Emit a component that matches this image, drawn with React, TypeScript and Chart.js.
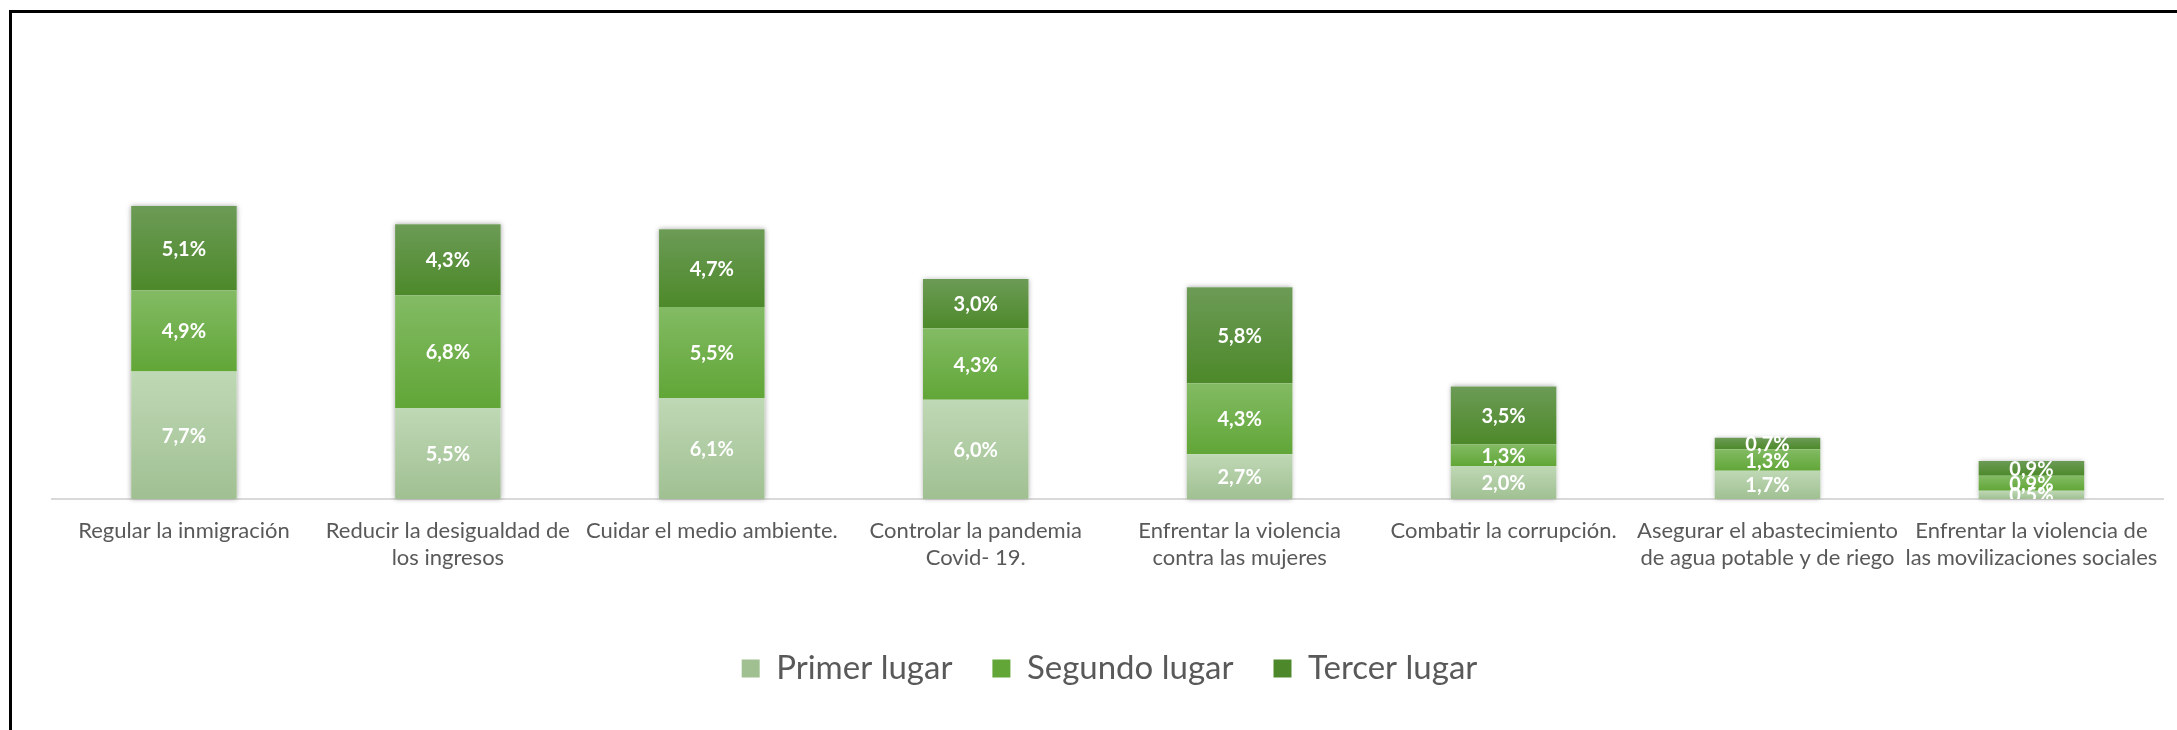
import React, { useEffect, useRef } from "react";
import { Chart, registerables } from "chart.js";

Chart.register(...registerables);

const categories: (string | string[])[] = [
  "Regular la inmigración",
  ["Reducir la desigualdad de", "los ingresos"],
  "Cuidar el medio ambiente.",
  ["Controlar la pandemia", "Covid- 19."],
  ["Enfrentar la violencia", "contra las mujeres"],
  "Combatir la corrupción.",
  ["Asegurar el abastecimiento", "de agua potable y de riego"],
  ["Enfrentar la violencia de", "las movilizaciones sociales"],
];

const primerLugar = [7.7, 5.5, 6.1, 6.0, 2.7, 2.0, 1.7, 0.5];
const segundoLugar = [4.9, 6.8, 5.5, 4.3, 4.3, 1.3, 1.3, 0.9];
const tercerLugar = [5.1, 4.3, 4.7, 3.0, 5.8, 3.5, 0.7, 0.9];

const seriesNames = ["Primer lugar", "Segundo lugar", "Tercer lugar"];
const seriesValues = [primerLugar, segundoLugar, tercerLugar];

const yMin = 0;
const yMax = 20;

const gradientTop = ["#bfd8b5", "#83bb64", "#6c9b56"];
const gradientBottom = ["#a0c092", "#61a637", "#4d892a"];
const solidColors = ["#b3d2a6", "#6aae44", "#5a9140"];

const FONT = "Lato, 'Open Sans', sans-serif";

function formatLabel(v: number): string {
  return v.toFixed(1).replace(".", ",") + "%";
}

const shadowPlugin = {
  id: "stackShadow",
  beforeDatasetsDraw(chart: any) {
    const ctx = chart.ctx;
    const first = chart.getDatasetMeta(0);
    const last = chart.getDatasetMeta(chart.data.datasets.length - 1);
    ctx.save();
    ctx.shadowColor = "rgba(0,0,0,0.35)";
    ctx.shadowBlur = 5;
    ctx.shadowOffsetX = 0;
    ctx.shadowOffsetY = 0;
    ctx.fillStyle = "#ffffff";
    first.data.forEach((el: any, i: number) => {
      const b = el.getProps(["x", "base", "width"], true);
      const t = last.data[i].getProps(["y"], true);
      ctx.fillRect(b.x - b.width / 2, t.y, b.width, b.base - t.y);
    });
    ctx.restore();
  },
};

const dataLabelPlugin = {
  id: "dataLabels",
  afterDatasetsDraw(chart: any) {
    const { ctx, chartArea } = chart;
    ctx.save();
    ctx.beginPath();
    ctx.rect(chartArea.left, chartArea.top, chartArea.right - chartArea.left, chartArea.bottom - chartArea.top);
    ctx.clip();
    ctx.font = `bold 20px ${FONT}`;
    ctx.fillStyle = "#ffffff";
    ctx.textAlign = "center";
    ctx.textBaseline = "middle";
    chart.data.datasets.forEach((ds: any, di: number) => {
      const meta = chart.getDatasetMeta(di);
      meta.data.forEach((el: any, i: number) => {
        const p = el.getProps(["x", "y", "base"], true);
        ctx.fillText(formatLabel(ds.data[i]), p.x, (p.y + p.base) / 2 + 1);
      });
    });
    ctx.restore();
  },
};

function makeBackground(seriesIndex: number) {
  return (ctx: any) => {
    const chart = ctx.chart;
    if (ctx.type !== "data" || !chart.chartArea || !chart.scales || !chart.scales.y) {
      return solidColors[seriesIndex];
    }
    let bottom = 0;
    for (let k = 0; k < seriesIndex; k++) bottom += seriesValues[k][ctx.dataIndex];
    const top = bottom + seriesValues[seriesIndex][ctx.dataIndex];
    const y0 = chart.scales.y.getPixelForValue(bottom);
    const y1 = chart.scales.y.getPixelForValue(top);
    if (!isFinite(y0) || !isFinite(y1) || y0 === y1) return solidColors[seriesIndex];
    const g = chart.ctx.createLinearGradient(0, y1, 0, y0);
    g.addColorStop(0, gradientTop[seriesIndex]);
    g.addColorStop(1, gradientBottom[seriesIndex]);
    return g;
  };
}

export default function App() {
  const canvasRef = useRef<HTMLCanvasElement | null>(null);

  useEffect(() => {
    if (!canvasRef.current) return;
    const chart = new Chart(canvasRef.current, {
      type: "bar",
      data: {
        labels: categories,
        datasets: seriesNames.map((name, i) => ({
          label: name,
          data: seriesValues[i],
          backgroundColor: makeBackground(i),
          borderWidth: 0,
          barPercentage: 0.4,
          categoryPercentage: 1.0,
        })),
      },
      options: {
        responsive: false,
        animation: false,
        maintainAspectRatio: false,
        layout: { padding: { left: 52, right: 10, top: 168, bottom: 35 } },
        scales: {
          x: {
            stacked: true,
            grid: { display: false, drawTicks: false },
            border: { display: true, color: "#d9d9d9", width: 2 },
            ticks: {
              color: "#595959",
              font: { family: FONT, size: 22, lineHeight: 1.2 },
              padding: 19,
              maxRotation: 0,
              minRotation: 0,
              autoSkip: false,
            },
            afterFit: (scale: any) => {
              scale.height = 113;
            },
          },
          y: {
            stacked: true,
            display: false,
            min: yMin,
            max: yMax,
          },
        },
        plugins: {
          legend: {
            position: "bottom",
            labels: {
              boxWidth: 18,
              boxHeight: 18,
              color: "#595959",
              font: { family: FONT, size: 33 },
              padding: 40,
            },
          },
          tooltip: { enabled: false },
        },
      },
      plugins: [shadowPlugin, dataLabelPlugin],
    });
    return () => chart.destroy();
  }, []);

  return (
    <div
      style={{
        position: "fixed",
        left: 0,
        top: 0,
        width: 2177,
        height: 730,
        overflow: "hidden",
        background: "#ffffff",
      }}
    >
      <div
        style={{
          position: "absolute",
          left: 9,
          top: 10,
          width: 2400,
          height: 900,
          borderTop: "3px solid #000",
          borderLeft: "3px solid #000",
        }}
      />
      <canvas
        ref={canvasRef}
        width={2177}
        height={730}
        style={{ position: "absolute", left: 0, top: 0, width: 2177, height: 730 }}
      />
    </div>
  );
}
